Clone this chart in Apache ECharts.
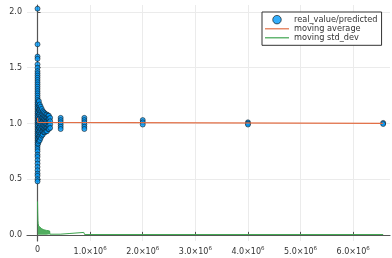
<!DOCTYPE html>
<html><head><meta charset="utf-8">
<script src="https://cdn.jsdelivr.net/npm/echarts@6/dist/echarts.min.js"></script>
<style>html,body{margin:0;padding:0;background:#fff}#c{width:392px;height:258px}</style>
</head><body><div id="c"></div>
<script>
// ---- data ----
var seriesNames = ['real_value/predicted', 'moving average', 'moving std_dev'];
var xTicks = [0, 1e6, 2e6, 3e6, 4e6, 5e6, 6e6];
var yTicks = [0, 0.5, 1.0, 1.5, 2.0];

// scatter: ratio of real value to predicted, [x, y]
var ratioPoints = [
  [0,2.03],[0,1.71],[0,1.60],[0,1.58],[0,1.53],[0,1.50],[0,1.47],[0,1.45],[0,1.43],[0,1.41],
  [0,1.39],[0,1.37],[0,1.35],[0,1.33],[0,1.31],[0,1.29],[0,1.27],[0,1.25],[0,1.23],[0,1.21],
  [0,1.19],[0,1.17],[0,1.15],[0,1.13],[0,1.11],[0,1.09],[0,1.07],[0,1.05],[0,1.03],[0,1.01],
  [0,0.99],[0,0.97],[0,0.95],[0,0.93],[0,0.91],[0,0.89],[0,0.87],[0,0.85],[0,0.83],[0,0.81],
  [0,0.79],[0,0.77],[0,0.75],[0,0.72],[0,0.70],[0,0.67],[0,0.64],[0,0.61],[0,0.58],[0,0.55],
  [0,0.53],[0,0.50],[0,0.48],
  [12000,1.18],[12000,1.14],[12000,1.10],[12000,1.06],[12000,1.02],[12000,0.98],[12000,0.94],[12000,0.90],[12000,0.86],[12000,0.82],
  [25000,1.20],[25000,1.16],[25000,1.12],[25000,1.08],[25000,1.04],[25000,1.00],[25000,0.96],[25000,0.92],[25000,0.88],[25000,0.84],
  [42000,1.17],[42000,1.13],[42000,1.09],[42000,1.05],[42000,1.01],[42000,0.97],[42000,0.93],[42000,0.89],[42000,0.85],
  [60000,1.15],[60000,1.11],[60000,1.07],[60000,1.03],[60000,0.99],[60000,0.95],[60000,0.91],[60000,0.87],
  [80000,1.13],[80000,1.09],[80000,1.05],[80000,1.01],[80000,0.97],[80000,0.93],[80000,0.89],
  [100000,1.11],[100000,1.08],[100000,1.05],[100000,1.02],[100000,0.99],[100000,0.96],[100000,0.93],[100000,0.90],
  [120000,1.10],[120000,1.07],[120000,1.04],[120000,1.01],[120000,0.98],[120000,0.95],[120000,0.92],
  [140000,1.09],[140000,1.06],[140000,1.03],[140000,1.00],[140000,0.97],[140000,0.94],[140000,0.92],
  [160000,1.08],[160000,1.05],[160000,1.02],[160000,0.99],[160000,0.96],[160000,0.93],
  [180000,1.08],[180000,1.05],[180000,1.02],[180000,0.99],[180000,0.96],[180000,0.93],
  [200000,1.07],[200000,1.04],[200000,1.01],[200000,0.98],[200000,0.95],
  [215000,1.07],[215000,1.04],[215000,1.01],[215000,0.98],[215000,0.95],
  [240000,1.05],[240000,1.02],[240000,0.99],[240000,0.96],
  [440000,1.05],[440000,1.03],[440000,1.01],[440000,0.99],[440000,0.97],[440000,0.95],
  [890000,1.05],[890000,1.03],[890000,1.01],[890000,0.99],[890000,0.97],[890000,0.95],
  [2000000,1.03],[2000000,1.01],[2000000,0.99],
  [4000000,1.01],[4000000,1.00],[4000000,0.99],
  [6570000,1.005],[6570000,0.995]
];

// moving average
var avgX = [0, 5000, 30000, 6570000];
var avgY = [1.05, 1.01, 1.00, 1.00];

// moving std_dev
var stdX = [0, 4000, 8000, 12000, 20000, 40000, 80000, 120000, 170000, 230000, 235000, 430000, 440000, 450000, 600000, 880000, 895000, 6570000];
var stdY = [0.30, 0.20, 0.13, 0.10, 0.08, 0.07, 0.055, 0.045, 0.04, 0.035, 0.006, 0.006, 0.02, 0.008, 0.012, 0.022, 0.003, 0.003];

function zip(a, b) { return a.map(function (v, i) { return [v, b[i]]; }); }

var chart = echarts.init(document.getElementById('c'), null, { renderer: 'canvas' });
var font = 'DejaVu Sans';
var lineIcon = 'path://M0,0H40V2H0Z';
chart.setOption({
  animation: false,
  backgroundColor: '#fff',
  textStyle: { fontFamily: font },
  grid: { left: 27, right: 2, top: 5, bottom: 17 },
  legend: {
    data: [
      { name: seriesNames[0], icon: 'circle', itemStyle: { color: '#009AFA', borderColor: '#111', borderWidth: 0.8 } },
      { name: seriesNames[1], icon: lineIcon, itemStyle: { color: '#E26F46', borderWidth: 0 } },
      { name: seriesNames[2], icon: lineIcon, itemStyle: { color: '#3EA44E', borderWidth: 0 } }
    ],
    orient: 'vertical', left: 262, top: 12,
    padding: [3, 4, 3, 3],
    itemGap: 0, itemWidth: 24, itemHeight: 8.5,
    borderColor: '#333', borderWidth: 1, backgroundColor: '#fff',
    textStyle: { fontSize: 8.2, lineHeight: 9, color: '#333', fontFamily: font, padding: [0, 0, 0, 0] }
  },
  xAxis: {
    type: 'value', min: -200000, max: 6700000,
    axisLine: { lineStyle: { color: '#555', width: 1.2 } },
    axisTick: { inside: true, length: 3, customValues: xTicks, lineStyle: { color: '#555' } },
    splitLine: { show: true, lineStyle: { color: '#ebebeb', width: 1 } },
    axisLabel: {
      customValues: xTicks, fontSize: 8, color: '#333', margin: 5,
      formatter: function (v) { return v === 0 ? '0' : (v / 1e6).toFixed(1) + '×10{s|6}'; },
      rich: { s: { fontSize: 5.5, color: '#333', padding: [0, 0, 6, 0] } }
    }
  },
  yAxis: {
    type: 'value', min: -0.055, max: 2.063,
    axisLine: { show: true, lineStyle: { color: '#555', width: 1.2 } },
    axisTick: { show: true, inside: true, length: 3, customValues: yTicks, lineStyle: { color: '#555' } },
    splitLine: { show: true, lineStyle: { color: '#ebebeb', width: 1 } },
    axisLabel: {
      customValues: yTicks, fontSize: 8, color: '#333', margin: 5,
      formatter: function (v) { return v.toFixed(1); }
    }
  },
  series: [
    {
      name: seriesNames[2] + '_fill', type: 'line', data: zip(stdX.slice(0, 11), stdY.slice(0, 11)),
      symbol: 'none', lineStyle: { width: 0 }, areaStyle: { color: '#3EA44E', opacity: 0.9 }, z: 1
    },
    {
      name: seriesNames[2], type: 'line', data: zip(stdX, stdY), symbol: 'none',
      color: '#3EA44E', lineStyle: { width: 1, color: '#3EA44E' }, z: 2
    },
    {
      name: seriesNames[0], type: 'scatter', data: ratioPoints, symbolSize: 5,
      itemStyle: { color: '#009AFA', borderColor: '#111', borderWidth: 0.7 }, z: 3
    },
    {
      name: seriesNames[1], type: 'line', data: zip(avgX, avgY), symbol: 'none',
      color: '#E26F46', lineStyle: { width: 1.2, color: '#E26F46' }, z: 4
    }
  ]
});
</script></body></html>
